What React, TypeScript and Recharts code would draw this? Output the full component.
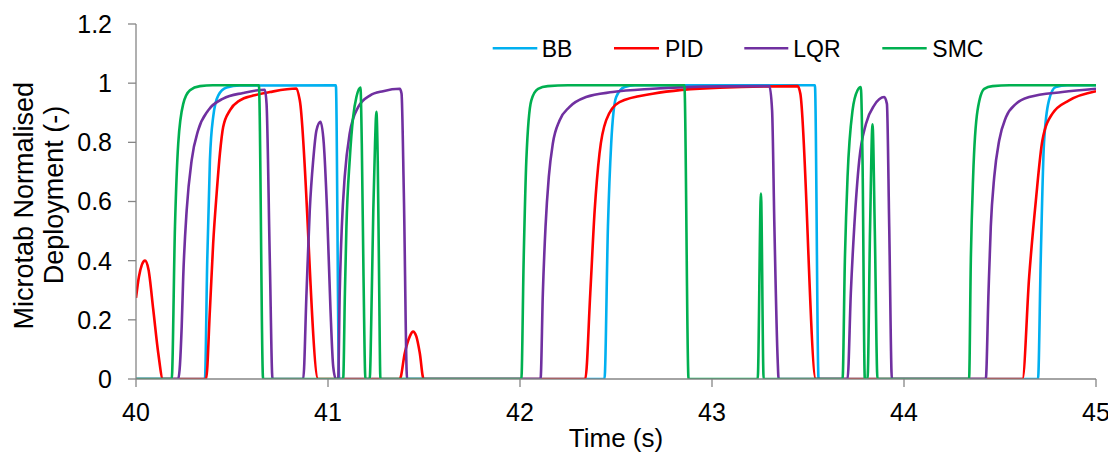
import React from "react";
import { LineChart, Line, XAxis, YAxis, Label, Legend } from "recharts";

// Time (s) / normalised deployment (-) pairs
const BB_POINTS: [number, number][] = [
  [40, 0], [40.359, 0], [40.371, 0.4], [40.385, 0.74], [40.402, 0.886], [40.428, 0.958],
  [40.472, 0.985], [40.541, 0.992], [41.041, 0.993], [41.058, 0], [42.44, 0], [42.458, 0.515],
  [42.475, 0.796], [42.501, 0.953], [42.545, 0.987], [42.6, 0.993], [43.536, 0.993], [43.555, 0],
  [44.698, 0], [44.712, 0.4], [44.729, 0.796], [44.755, 0.942], [44.79, 0.987], [44.85, 0.993],
  [45, 0.993],
];

const PID_POINTS: [number, number][] = [
  [40, 0.274], [40.015, 0.345], [40.03, 0.385], [40.047, 0.4], [40.065, 0.37], [40.09, 0.234],
  [40.116, 0.087], [40.14, 0], [40.365, 0], [40.385, 0.234], [40.402, 0.459], [40.42, 0.627],
  [40.437, 0.762], [40.454, 0.852], [40.489, 0.908], [40.541, 0.942], [40.61, 0.958],
  [40.697, 0.97], [40.836, 0.982], [40.853, 0.942], [40.949, 0], [41.374, 0], [41.4, 0.088],
  [41.426, 0.144], [41.443, 0.16], [41.46, 0.144], [41.478, 0.088], [41.498, 0], [42.34, 0],
  [42.366, 0.29], [42.389, 0.571], [42.414, 0.762], [42.449, 0.875], [42.518, 0.936],
  [42.691, 0.964], [43.039, 0.985], [43.446, 0.99], [43.46, 0.965], [43.541, 0], [44.617, 0],
  [44.652, 0.346], [44.687, 0.605], [44.721, 0.807], [44.773, 0.897], [44.86, 0.942], [45, 0.973],
];

const LQR_POINTS: [number, number][] = [
  [40, 0], [40.22, 0], [40.238, 0.177], [40.246, 0.346], [40.264, 0.571], [40.29, 0.74],
  [40.324, 0.841], [40.376, 0.908], [40.454, 0.948], [40.558, 0.967], [40.671, 0.978],
  [40.68, 0.93], [40.697, 0.4], [40.711, 0], [40.871, 0], [40.888, 0.29], [40.905, 0.571],
  [40.923, 0.74], [40.94, 0.841], [40.961, 0.869], [40.978, 0.796], [40.995, 0.571],
  [41.013, 0.234], [41.027, 0.043], [41.041, 0], [41.053, 0], [41.061, 0.29], [41.072, 0.515],
  [41.087, 0.683], [41.113, 0.83], [41.157, 0.919], [41.218, 0.958], [41.287, 0.973],
  [41.374, 0.981], [41.383, 0.965], [41.395, 0.627], [41.412, 0], [42.107, 0], [42.119, 0.29],
  [42.133, 0.515], [42.15, 0.683], [42.171, 0.796], [42.206, 0.874], [42.257, 0.919],
  [42.344, 0.953], [42.483, 0.97], [42.691, 0.981], [43.039, 0.989], [43.299, 0.99],
  [43.313, 0.908], [43.325, 0.515], [43.342, 0.065], [43.347, 0], [43.706, 0], [43.723, 0.29],
  [43.741, 0.515], [43.767, 0.74], [43.802, 0.863], [43.845, 0.925], [43.897, 0.953],
  [43.911, 0.93], [43.923, 0.515], [43.937, 0], [44.426, 0], [44.44, 0.29], [44.452, 0.515],
  [44.47, 0.683], [44.496, 0.807], [44.531, 0.885], [44.583, 0.93], [44.652, 0.953],
  [44.825, 0.97], [45, 0.981],
];

const SMC_POINTS: [number, number][] = [
  [40, 0], [40.186, 0], [40.203, 0.515], [40.22, 0.796], [40.246, 0.93], [40.281, 0.976],
  [40.333, 0.99], [40.4, 0.993], [40.64, 0.993], [40.662, 0], [41.079, 0], [41.088, 0.29],
  [41.096, 0.515], [41.113, 0.74], [41.131, 0.886], [41.148, 0.953], [41.169, 0.985],
  [41.176, 0.796], [41.185, 0.346], [41.195, 0], [41.217, 0], [41.228, 0.29], [41.236, 0.571],
  [41.245, 0.796], [41.252, 0.903], [41.259, 0.74], [41.266, 0.346], [41.273, 0], [42.007, 0],
  [42.019, 0.4], [42.033, 0.74], [42.059, 0.942], [42.094, 0.981], [42.145, 0.99],
  [42.25, 0.993], [42.856, 0.993], [42.878, 0], [43.238, 0], [43.255, 0.627], [43.269, 0],
  [43.68, 0], [43.692, 0.4], [43.706, 0.683], [43.732, 0.908], [43.758, 0.976], [43.775, 0.987],
  [43.784, 0.74], [43.796, 0], [43.81, 0], [43.823, 0.5], [43.836, 0.861], [43.848, 0.5],
  [43.862, 0], [44.339, 0], [44.348, 0.4], [44.36, 0.683], [44.383, 0.908], [44.418, 0.981],
  [44.461, 0.99], [44.55, 0.993], [45, 0.993],
];

const SERIES_NAMES = ["BB", "PID", "LQR", "SMC"];
const SERIES_COLORS = ["#00B0F0", "#FF0000", "#7030A0", "#00B050"];
const X_TICKS = [40, 41, 42, 43, 44, 45];
const Y_TICKS = [0, 0.2, 0.4, 0.6, 0.8, 1, 1.2];
const X_TITLE = "Time (s)";
const Y_TITLE_LINES = ["Microtab Normalised", "Deployment (-)"];

const FONT = "'Liberation Sans', Arial, Helvetica, sans-serif";
const AXIS_GRAY = "#868686";

const toRows = (pts: [number, number][]) => pts.map(([t, v]) => ({ t, v }));
const SERIES_DATA = [BB_POINTS, PID_POINTS, LQR_POINTS, SMC_POINTS].map(toRows);

const LEGEND_ITEMS = [
  { x1: 484.7, x2: 529.3, tx: 533.7 },
  { x1: 606, x2: 651, tx: 657 },
  { x1: 736.3, x2: 780.3, tx: 785.3 },
  { x1: 874.3, x2: 918.7, tx: 924.3 },
];

const renderLegend = () => (
  <svg width={1108} height={70} style={{ display: "block" }}>
    {SERIES_NAMES.map((name, i) => (
      <g key={name}>
        <line
          x1={LEGEND_ITEMS[i].x1}
          x2={LEGEND_ITEMS[i].x2}
          y1={40.3}
          y2={40.3}
          stroke={SERIES_COLORS[i]}
          strokeWidth={2.6}
        />
        <text x={LEGEND_ITEMS[i].tx} y={49.3} fontSize={23} fontFamily={FONT} fill="#000">
          {name}
        </text>
      </g>
    ))}
  </svg>
);

export default function App() {
  return (
    <div style={{ width: 1108, height: 448 }}>
      <LineChart width={1108} height={448} margin={{ top: 16, right: 20, left: 0, bottom: 0 }}>
        <XAxis
          type="number"
          dataKey="t"
          domain={[40, 45]}
          ticks={X_TICKS}
          allowDataOverflow
          height={77}
          tickSize={8}
          tickMargin={16}
          axisLine={{ stroke: AXIS_GRAY, strokeWidth: 1.3 }}
          tickLine={{ stroke: AXIS_GRAY, strokeWidth: 1.3 }}
          tick={{ fill: "#000", fontSize: 25, fontFamily: FONT }}
        >
          <Label
            content={() => (
              <text x={608} y={439.3} textAnchor="middle" fontSize={26} fontFamily={FONT} fill="#000">
                {X_TITLE}
              </text>
            )}
          />
        </XAxis>
        <YAxis
          type="number"
          domain={[0, 1.2]}
          ticks={Y_TICKS}
          allowDataOverflow
          width={128}
          tickSize={8}
          tickMargin={16}
          axisLine={{ stroke: AXIS_GRAY, strokeWidth: 1.3 }}
          tickLine={{ stroke: AXIS_GRAY, strokeWidth: 1.3 }}
          tick={{ fill: "#000", fontSize: 25, fontFamily: FONT }}
        >
          <Label
            content={() => (
              <g>
                <text
                  x={25}
                  y={197.8}
                  transform="rotate(-90 25 197.8)"
                  textAnchor="middle"
                  fontSize={27}
                  fontFamily={FONT}
                  fill="#000"
                >
                  {Y_TITLE_LINES[0]}
                </text>
                <text
                  x={55}
                  y={187}
                  transform="rotate(-90 55 187)"
                  textAnchor="middle"
                  fontSize={27}
                  fontFamily={FONT}
                  fill="#000"
                >
                  {Y_TITLE_LINES[1]}
                </text>
              </g>
            )}
          />
        </YAxis>
        <Legend
          layout="horizontal"
          verticalAlign="middle"
          align="center"
          wrapperStyle={{ left: 0, top: 0, width: 1108, height: 70 }}
          content={renderLegend}
        />
        {SERIES_NAMES.map((name, i) => (
          <Line
            key={name}
            name={name}
            data={SERIES_DATA[i]}
            dataKey="v"
            type="monotone"
            stroke={SERIES_COLORS[i]}
            strokeWidth={2.6}
            dot={false}
            activeDot={false}
            isAnimationActive={false}
          />
        ))}
      </LineChart>
    </div>
  );
}
